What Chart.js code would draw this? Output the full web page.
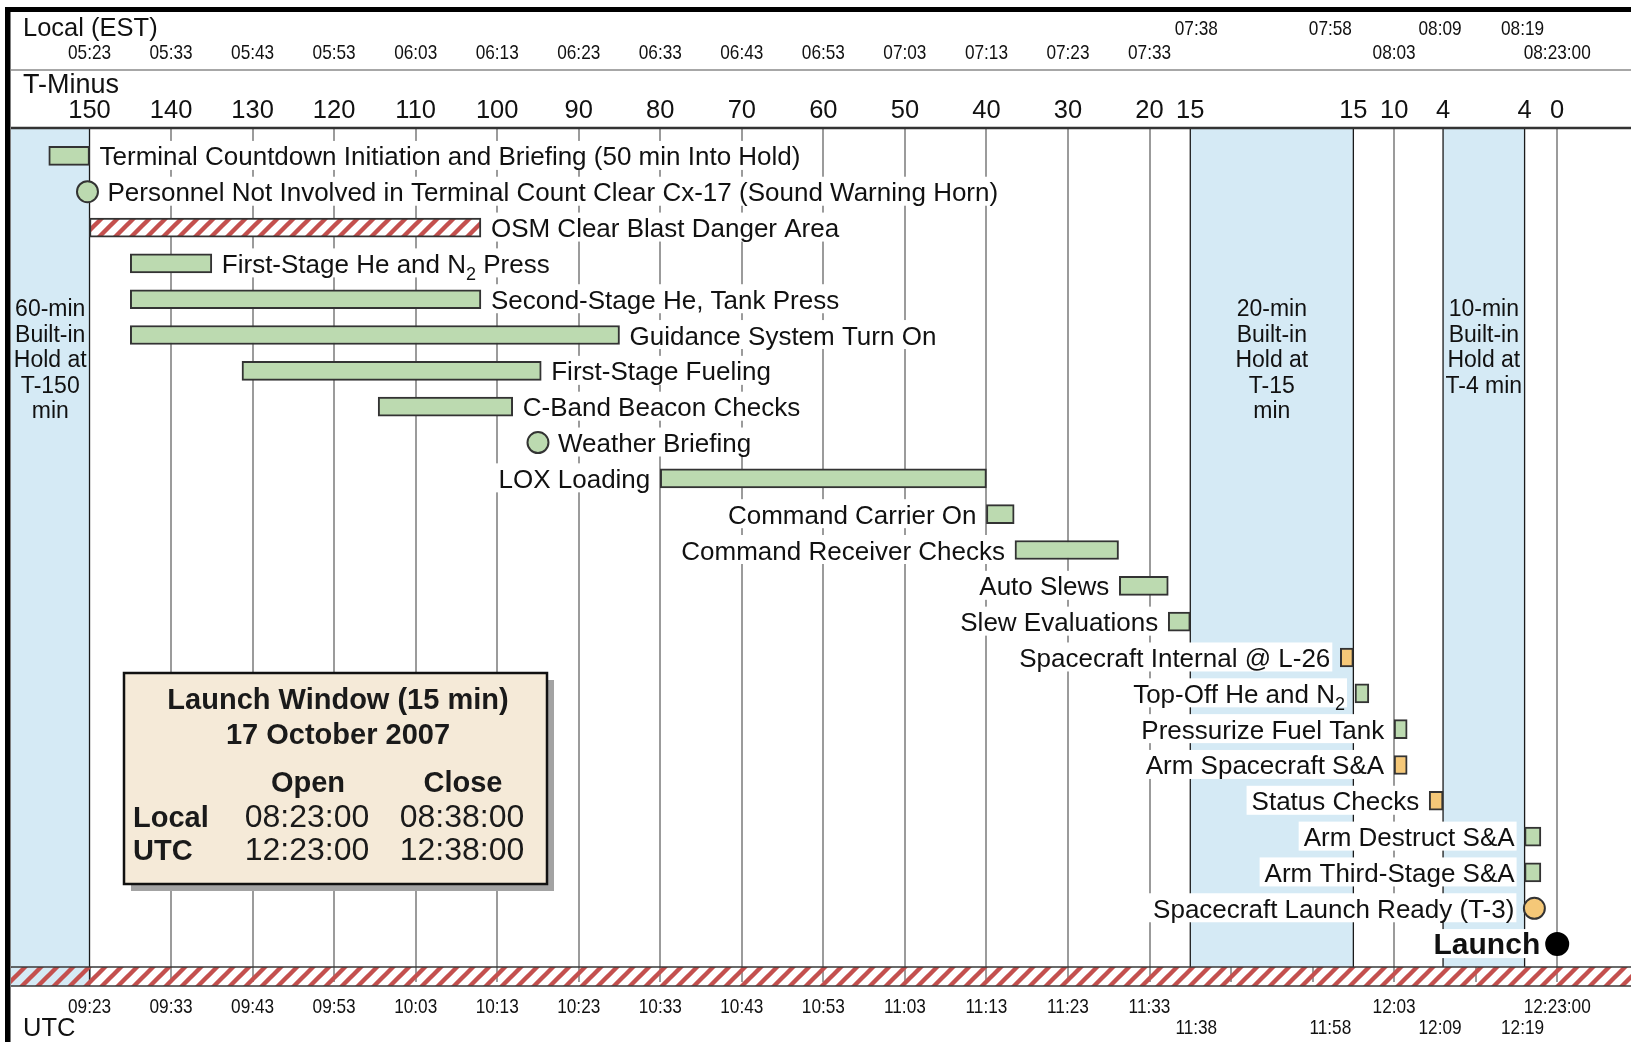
<!DOCTYPE html>
<html>
<head>
<meta charset="utf-8">
<script src="https://cdn.jsdelivr.net/npm/chart.js@4.4.1/dist/chart.umd.min.js"></script>
<style>
html,body{margin:0;padding:0;background:#fff;}
canvas{display:block;}
</style>
</head>
<body>
<canvas id="c" width="1631" height="1042"></canvas>
<script>
// ---------------- DATA ----------------
// Task rows (top to bottom). "{2}" marks a subscript.
const rowLabels = [
  'Terminal Countdown Initiation and Briefing (50 min Into Hold)',
  'Personnel Not Involved in Terminal Count Clear Cx-17 (Sound Warning Horn)',
  'OSM Clear Blast Danger Area',
  'First-Stage He and N{2} Press',
  'Second-Stage He, Tank Press',
  'Guidance System Turn On',
  'First-Stage Fueling',
  'C-Band Beacon Checks',
  'Weather Briefing',
  'LOX Loading',
  'Command Carrier On',
  'Command Receiver Checks',
  'Auto Slews',
  'Slew Evaluations',
  'Spacecraft Internal @ L-26',
  'Top-Off He and N{2}',
  'Pressurize Fuel Tank',
  'Arm Spacecraft S&A',
  'Status Checks',
  'Arm Destruct S&A',
  'Arm Third-Stage S&A',
  'Spacecraft Launch Ready (T-3)',
  'Launch'
];
// minutes of clock time after 05:23 local (T-150)
const taskStart = [-5, -0.25, 0, 5, 5, 5, 18.7, 35.4, 55, 70, 110, 113.5, 126.3, 132.3, 153.4, 155.2, 160, 160, 164.3, 176, 176, 177.2, 180];
// null = milestone (single point in time)
const taskEnd   = [0, null, 48, 15, 48, 65, 55.4, 51.9, null, 110, 113.4, 126.2, 132.3, 135, 155, 156.9, 161.6, 161.6, 166, 178, 178, null, null];
const taskGroup = ['vehicle','vehicle','range','vehicle','vehicle','vehicle','vehicle','vehicle','vehicle','vehicle',
                   'vehicle','vehicle','vehicle','vehicle','spacecraft','vehicle','vehicle','spacecraft','spacecraft',
                   'vehicle','vehicle','spacecraft','launch'];

// Axis ticks
const localTimeLabels = ['05:23','05:33','05:43','05:53','06:03','06:13','06:23','06:33','06:43','06:53','07:03','07:13','07:23','07:33','07:38','07:58','08:03','08:09','08:19','08:23:00'];
const tMinusLabels    = ['150','140','130','120','110','100','90','80','70','60','50','40','30','20','15','15','10','4','4','0'];
const utcLabels       = ['09:23','09:33','09:43','09:53','10:03','10:13','10:23','10:33','10:43','10:53','11:03','11:13','11:23','11:33','11:38','11:58','12:03','12:09','12:19','12:23:00'];

// Built-in holds (local clock)
const holdStartLocal = ['04:23','07:38','08:09'];
const holdEndLocal   = ['05:23','07:58','08:19'];
const holdText = [
  ['60-min','Built-in','Hold at','T-150','min'],
  ['20-min','Built-in','Hold at','T-15','min'],
  ['10-min','Built-in','Hold at','T-4 min']
];

// Launch window
const windowTitle = ['Launch Window (15 min)', '17 October 2007'];
const windowRows = ['Local', 'UTC'];
const windowOpen = ['08:23:00', '12:23:00'];
const windowClose = ['08:38:00', '12:38:00'];

// ---------------- HELPERS ----------------
const ZERO = '05:23';
function clock(s){ const p = s.split(':').map(Number); return p[0]*60 + p[1] + (p[2]||0)/60; }
const toElapsed = s => clock(s) - clock(ZERO);

const FONT = "'Liberation Sans', Arial, Helvetica, sans-serif";
const BLUE = '#d5eaf5';
const GREEN = '#bcdab0';
const ORANGE = '#f5c878';
const RED = '#c4504e';
const EDGE = '#333333';

const canvas = document.getElementById('c');
const ctx = canvas.getContext('2d');

function makeHatch(bg){
  const p = document.createElement('canvas'); p.width = 16; p.height = 16;
  const g = p.getContext('2d');
  if (bg){ g.fillStyle = bg; g.fillRect(0,0,16,16); }
  g.strokeStyle = RED; g.lineWidth = 4.4;
  g.beginPath();
  for (let k = -1; k <= 1; k++){ g.moveTo(k*16 - 2, 18); g.lineTo(k*16 + 18, -2); }
  g.stroke();
  return ctx.createPattern(p, 'repeat');
}
const hatchWhite = makeHatch('#ffffff');
const hatchClear = makeHatch(null);

function barsFor(group){
  return rowLabels.map((_, i) => (taskGroup[i] === group && taskEnd[i] !== null) ? [taskStart[i], taskEnd[i]] : null);
}
function pointsFor(group){
  const out = [];
  rowLabels.forEach((l, i) => { if (taskGroup[i] === group && taskEnd[i] === null) out.push({x: taskStart[i], y: l}); });
  return out;
}

// Layout constants (pixels)
const HEAD_DIV = 70, HEAD_LINE = 128, STRIP_TOP = 967, STRIP_BOT = 986;
// horizontal nudges (px) for the staggered hold-boundary time labels, by tick index
const STAGGER_NUDGE = {14: 6, 15: -23, 17: -3, 18: -2};

function richParts(text){
  const raw = text.split(/\{(\d+)\}/);
  return raw.map((t, k) => ({t, sub: k % 2 === 1})).filter(p => p.t.length);
}
function measureRich(parts, size, bold){
  let w = 0;
  parts.forEach(p => {
    ctx.font = p.sub ? `${Math.round(size*0.68)}px ${FONT}` : `${bold?'bold ':''}${size}px ${FONT}`;
    p.w = ctx.measureText(p.t).width; w += p.w;
  });
  return w;
}
function drawRich(parts, x, baseline, size, bold){
  let cx = x;
  parts.forEach(p => {
    ctx.font = p.sub ? `${Math.round(size*0.68)}px ${FONT}` : `${bold?'bold ':''}${size}px ${FONT}`;
    ctx.textAlign = 'left';
    ctx.fillText(p.t, cx, baseline + (p.sub ? size*0.26 : 0));
    cx += p.w;
  });
}
function narrowText(text, x, baseline, size){
  ctx.save();
  ctx.font = `${size}px ${FONT}`;
  ctx.textAlign = 'center';
  ctx.translate(x, baseline);
  ctx.scale(0.82, 1);
  ctx.fillText(text, 0, 0);
  ctx.restore();
}

const decorPlugin = {
  id: 'decor',
  beforeDraw(chart){
    const c = chart.ctx;
    c.save(); c.fillStyle = '#fff'; c.fillRect(0,0,chart.width,chart.height); c.restore();
  },
  beforeDatasetsDraw(chart){
    const c = chart.ctx, xs = chart.scales.x, ys = chart.scales.y, ca = chart.chartArea;
    const px = v => xs.getPixelForValue(v);
    const L = ca.left, R = chart.width;
    c.save();

    // hold bands
    c.fillStyle = BLUE;
    holdStartLocal.forEach((s, k) => {
      const a = Math.max(px(toElapsed(s)), L), b = px(toElapsed(holdEndLocal[k]));
      c.fillRect(a, HEAD_LINE, b - a, (k === 0 ? STRIP_BOT : STRIP_TOP) - HEAD_LINE);
    });
    // strip background
    c.fillStyle = '#fff';
    const firstEdge = px(toElapsed(holdEndLocal[0]));
    c.fillRect(firstEdge, STRIP_TOP, R - firstEdge, STRIP_BOT - STRIP_TOP);

    const boundaries = [];
    holdStartLocal.forEach((s, k) => { boundaries.push(toElapsed(s), toElapsed(holdEndLocal[k])); });
    const tickVals = localTimeLabels.map(toElapsed);

    // gray grid lines at countdown ticks
    c.strokeStyle = '#9b9b9b'; c.lineWidth = 2;
    tickVals.forEach(v => {
      if (boundaries.some(b => Math.abs(b - v) < 0.01)) return;
      const x = Math.round(px(v));
      c.beginPath(); c.moveTo(x, HEAD_LINE); c.lineTo(x, STRIP_BOT - 4); c.stroke();
    });
    // strip ticks every 10 minutes of clock time
    for (let v = 0; v <= 180; v += 10){
      const x = Math.round(px(v));
      c.beginPath(); c.moveTo(x, STRIP_TOP); c.lineTo(x, STRIP_BOT - 4); c.stroke();
    }
    // hold edges
    c.strokeStyle = '#1a1a1a'; c.lineWidth = 1.3;
    boundaries.forEach((v, k) => {
      const x = px(v); if (x < L) return;
      c.beginPath(); c.moveTo(x, HEAD_LINE); c.lineTo(x, k === 1 ? STRIP_BOT : STRIP_TOP); c.stroke();
    });
    // hatched strip
    c.fillStyle = hatchClear;
    c.fillRect(L, STRIP_TOP, R - L, STRIP_BOT - STRIP_TOP);
    c.strokeStyle = '#3a3a3a'; c.lineWidth = 1.6;
    c.beginPath(); c.moveTo(L, STRIP_TOP); c.lineTo(R, STRIP_TOP); c.moveTo(L, STRIP_BOT); c.lineTo(R, STRIP_BOT); c.stroke();

    // frame
    c.fillStyle = '#000';
    c.fillRect(5, 7, R - 5, 5);
    c.fillRect(5, 7, 5.5, chart.height - 7);
    c.strokeStyle = '#8a8a8a'; c.lineWidth = 1.5;
    c.beginPath(); c.moveTo(L, HEAD_DIV); c.lineTo(R, HEAD_DIV); c.stroke();
    c.strokeStyle = '#333'; c.lineWidth = 2.5;
    c.beginPath(); c.moveTo(L, HEAD_LINE); c.lineTo(R, HEAD_LINE); c.stroke();

    // header and footer texts
    c.fillStyle = '#111';
    c.textAlign = 'left';
    c.font = `25.5px ${FONT}`;
    c.fillText('Local (EST)', 23, 36);
    c.fillText('UTC', 23, 1036);
    c.font = `27px ${FONT}`;
    c.fillText('T-Minus', 23, 93);
    const stagger = [];
    holdStartLocal.forEach((s, k) => { if (k > 0) stagger.push(toElapsed(s), toElapsed(holdEndLocal[k])); });
    localTimeLabels.forEach((t, i) => {
      const v = tickVals[i], x = px(v);
      const st = stagger.some(b => Math.abs(b - v) < 0.01);
      const nx = x + (STAGGER_NUDGE[i] || 0);
      narrowText(t, nx, st ? 35 : 59, 21);
      narrowText(utcLabels[i], nx, st ? 1034 : 1013, 21);
      c.font = `25.5px ${FONT}`; c.textAlign = 'center';
      c.fillText(tMinusLabels[i], x, 118);
    });

    // hold labels
    c.font = `23px ${FONT}`; c.textAlign = 'center'; c.fillStyle = '#111';
    holdStartLocal.forEach((s, k) => {
      const a = Math.max(px(toElapsed(s)), L), b = px(toElapsed(holdEndLocal[k]));
      const cx = (a + b) / 2;
      holdText[k].forEach((line, j) => c.fillText(line, cx, 316 + j * 25.5));
    });

    // row labels with white boxes
    rowLabels.forEach((lab, i) => {
      const y = ys.getPixelForValue(i);
      const isPoint = taskEnd[i] === null;
      const r = 11;
      const x0 = isPoint ? px(taskStart[i]) - r : px(taskStart[i]);
      const x1 = isPoint ? px(taskStart[i]) + r : px(taskEnd[i]);
      const right = i <= 8;
      const bold = taskGroup[i] === 'launch';
      const size = bold ? 30 : 26;
      const parts = richParts(lab);
      const w = measureRich(parts, size, bold);
      const gap = bold ? 6 : (isPoint ? 9 : 10);
      const tx = right ? x1 + gap : x0 - gap - w;
      c.fillStyle = '#fff';
      c.fillRect(tx - 5, y - 15, w + 7, 29);
      c.fillStyle = '#111';
      drawRich(parts, tx, y + 9.5, size, bold);
    });

    // launch window box
    const bx = 124, by = 673, bw = 423, bh = 211;
    c.fillStyle = '#a3a3a3'; c.fillRect(bx + 7, by + 7, bw, bh);
    c.fillStyle = '#f5ead8'; c.fillRect(bx, by, bw, bh);
    c.strokeStyle = '#111'; c.lineWidth = 2.5; c.strokeRect(bx, by, bw, bh);
    c.fillStyle = '#1a1a1a';
    c.font = `bold 29px ${FONT}`; c.textAlign = 'center';
    c.fillText(windowTitle[0], 338, 709);
    c.fillText(windowTitle[1], 338, 744);
    c.fillText('Open', 308, 792);
    c.fillText('Close', 463, 792);
    windowRows.forEach((row, k) => {
      const base = 827 + k * 33;
      c.font = `bold 29px ${FONT}`; c.textAlign = 'left';
      c.fillText(row, 133, base);
      c.font = `32px ${FONT}`; c.textAlign = 'center';
      c.fillText(windowOpen[k], 307, base);
      c.fillText(windowClose[k], 462, base);
    });
    c.restore();
  }
};

const barCommon = { type: 'bar', grouped: false, barThickness: 19, borderWidth: 2, borderColor: EDGE, borderSkipped: false };
const ptCommon = { type: 'scatter', pointRadius: 10.5, pointBorderWidth: 2, pointBorderColor: EDGE, showLine: false };

new Chart(ctx, {
  type: 'bar',
  data: {
    labels: rowLabels,
    datasets: [
      Object.assign({ label: 'Vehicle', data: barsFor('vehicle'), backgroundColor: GREEN }, barCommon),
      Object.assign({ label: 'Spacecraft', data: barsFor('spacecraft'), backgroundColor: ORANGE }, barCommon),
      Object.assign({ label: 'Range', data: barsFor('range'), backgroundColor: hatchWhite }, barCommon),
      Object.assign({ label: 'Vehicle milestones', data: pointsFor('vehicle'), pointBackgroundColor: GREEN }, ptCommon),
      Object.assign({ label: 'Spacecraft milestones', data: pointsFor('spacecraft'), pointBackgroundColor: ORANGE }, ptCommon),
      Object.assign({ label: 'Launch', data: pointsFor('launch'), pointBackgroundColor: '#000' }, ptCommon, { pointBorderColor: '#000', pointRadius: 11 })
    ]
  },
  options: {
    indexAxis: 'y',
    responsive: false,
    animation: false,
    events: [],
    layout: { autoPadding: false, padding: { left: 11, right: 0, top: 138, bottom: 80 } },
    scales: {
      x: { type: 'linear', min: -9.63, max: 189.05, display: false },
      y: { type: 'category', offset: true, display: false }
    },
    plugins: { legend: { display: false }, tooltip: { enabled: false } }
  },
  plugins: [decorPlugin]
});
</script>
</body>
</html>
